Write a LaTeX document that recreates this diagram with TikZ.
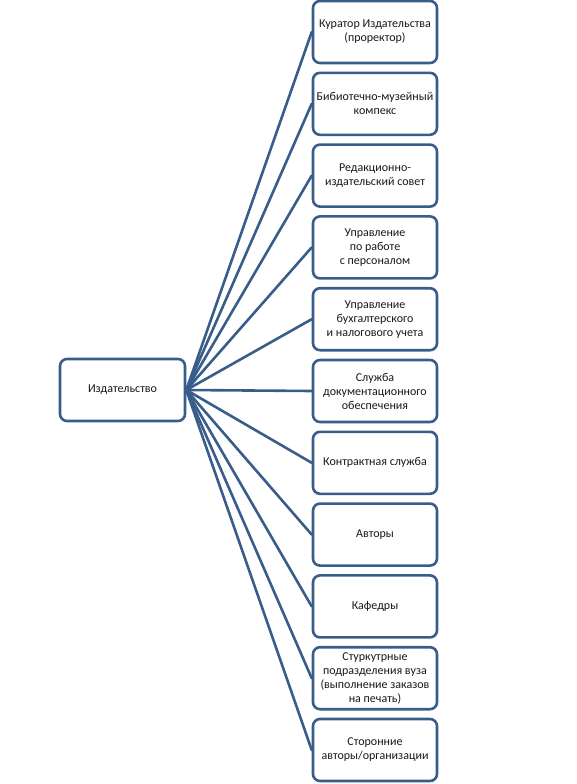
\documentclass[tikz,border=0pt]{standalone}
\usepackage{fontspec}
\setmainfont{Carlito}
\usepackage{tikz}
\definecolor{linkblue}{RGB}{56,93,138}
\definecolor{txtgray}{RGB}{25,25,25}
\usetikzlibrary{arrows.meta}

\tikzset{
  unitbox/.style={draw=linkblue, line width=2.6pt, rounded corners=7pt, fill=white,
    minimum width=124pt, minimum height=62pt, align=center, text=txtgray,
    font=\fontsize{12}{14}\selectfont, inner sep=1pt},
  link/.style={draw=linkblue, line width=2.6pt}
}

\begin{document}
\begin{tikzpicture}[x=1pt, y=-1pt, line cap=round, line join=round]
    \useasboundingbox (0,0) rectangle (577,784);
    % main unit
    \node[unitbox, minimum width=125pt] (izd) at (122.5,390) {Издательство};
    % subordinate units
    \node[unitbox] (kurator) at (375,32) {Куратор Издательства\\(проректор)};
    \node[unitbox] (biblio) at (375,103.8) {Бибиотечно-музейный\\компекс};
    \node[unitbox] (redsovet) at (375,175.6) {Редакционно-\\издательский совет};
    \node[unitbox] (kadry) at (375,247.4) {Управление\\по работе\\с персоналом};
    \node[unitbox] (buh) at (375,319.2) {Управление\\бухгалтерского\\и налогового учета};
    \node[unitbox] (docs) at (375,391) {Служба\\документационного\\обеспечения};
    \node[unitbox] (kontrakt) at (375,462.8) {Контрактная служба};
    \node[unitbox] (avtory) at (375,534.6) {Авторы};
    \node[unitbox] (kafedry) at (375,606.4) {Кафедры};
    \node[unitbox] (podrazd) at (375,678.2) {Стуркутрные\\подразделения вуза\\(выполнение заказов\\на печать)};
    \node[unitbox] (storon) at (375,750) {Сторонние\\авторы/организации};
    % connectors
	\draw [link] (izd.east)-- (kurator.west);
	\draw [link] (izd.east)-- (biblio.west);
	\draw [link] (izd.east)-- (redsovet.west);
	\draw [link] (izd.east)-- (kadry.west);
	\draw [link] (izd.east)-- (buh.west);
	\draw [link] (izd.east)-- (docs.west);
	\draw [link] (izd.east)-- (kontrakt.west);
	\draw [link] (izd.east)-- (avtory.west);
	\draw [link] (izd.east)-- (kafedry.west);
	\draw [link] (izd.east)-- (podrazd.west);
	\draw [link] (izd.east)-- (storon.west);
\end{tikzpicture}
\end{document}
